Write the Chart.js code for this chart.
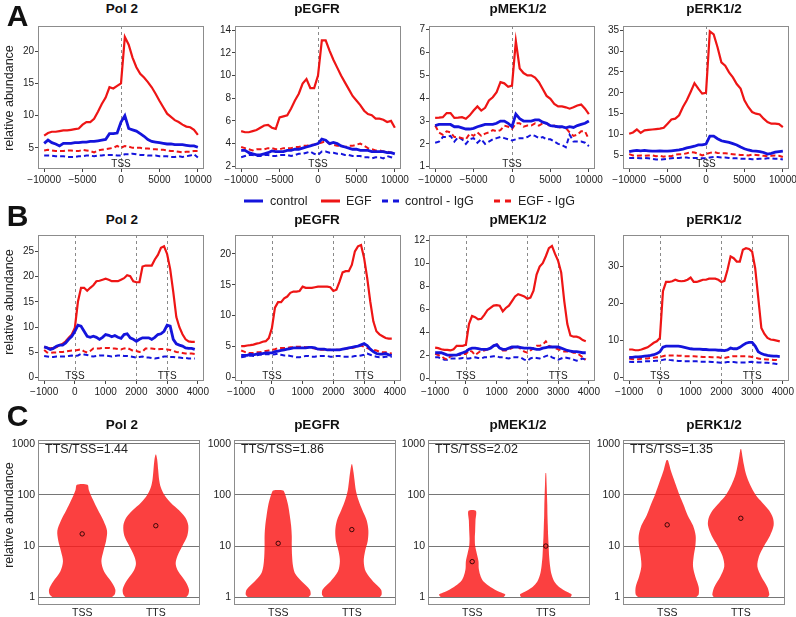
<!DOCTYPE html>
<html>
<head>
<meta charset="utf-8">
<script src="https://cdn.jsdelivr.net/npm/chart.js@4.4.1/dist/chart.umd.min.js"></script>
<style>
  body { margin: 0; background: #fff; width: 796px; height: 617px; position: relative; overflow: hidden;
         font-family: "Liberation Sans", Arial, sans-serif; color: #111; }
  canvas { position: absolute; }
  .t { position: absolute; transform: translate(-50%, -50%); white-space: nowrap; line-height: 1; }
  .letter { font-size: 30px; font-weight: bold; }
  .title { font-size: 13.5px; font-weight: bold; }
  .ylab { font-size: 12.5px; transform: translate(-50%, -50%) rotate(-90deg); color: #222; }
  .ratio { position: absolute; font-size: 12.5px; line-height: 1; transform: translateY(-50%); color: #222; }
  .leg { position: absolute; font-size: 12.5px; line-height: 1; transform: translateY(-50%); color: #222; }
  .lline { position: absolute; height: 0; border-top-width: 3px; transform: translateY(-50%); }
</style>
</head>
<body>
<script>
const PANEL_TITLES = ["Pol 2", "pEGFR", "pMEK1/2", "pERK1/2"];
const SERIES_NAMES = ["control", "EGF", "control - IgG", "EGF - IgG"];

// ---- A: profile around TSS ----
const X_A = [-10000, -9500, -9000, -8500, -8000, -7500, -7000, -6500, -6000, -5500, -5000, -4500, -4000, -3500,
  -3000, -2500, -2000, -1500, -1000, -500, 0, 500, 1000, 1500, 2000, 2500, 3000, 3500, 4000, 4500, 5000, 5500,
  6000, 6500, 7000, 7500, 8000, 8500, 9000, 9500, 10000];
const A_XTICKS = [-10000, -5000, 0, 5000, 10000];
const A_XRANGE = [-10800, 10800];

const A_POL2_CONTROL = [5.7, 6.2, 5.8, 5.6, 5.3, 5.7, 5.7, 5.7, 5.8, 5.8, 5.9, 5.9, 6.0, 6.0, 6.1, 6.2, 6.3, 7.2, 7.2, 7.3,
  9.0, 10.0, 8.0, 7.8, 7.6, 7.2, 6.8, 6.3, 6.0, 5.9, 5.8, 5.7, 5.6, 5.6, 5.5, 5.5, 5.5, 5.4, 5.3, 5.3, 5.1];
const A_POL2_EGF = [6.9, 7.3, 7.5, 7.5, 7.6, 7.7, 7.7, 7.8, 7.9, 8.0, 8.6, 9.0, 9.0, 9.5, 10.6, 11.8, 12.8, 14.4, 14.2, 14.6,
  15.0, 22.2, 21.0, 19.0, 17.5, 16.5, 15.9, 15.2, 14.4, 13.4, 12.3, 11.3, 10.3, 9.8, 9.3, 9.0, 8.6, 8.3, 8.2, 7.8, 7.0];
const A_POL2_CONTROL_IGG = [3.8, 3.8, 3.8, 3.7, 3.7, 3.7, 3.6, 3.6, 3.6, 3.7, 3.7, 3.8, 3.8, 3.7, 3.8, 3.8, 3.9, 3.9, 3.9, 3.8,
  3.8, 4.0, 4.0, 4.1, 4.0, 3.9, 3.9, 3.8, 3.8, 3.8, 3.7, 3.7, 3.7, 3.6, 3.6, 3.7, 3.6, 3.7, 3.8, 4.0, 3.5];
const A_POL2_EGF_IGG = [4.6, 4.7, 4.6, 4.5, 4.5, 4.5, 4.6, 4.6, 4.5, 4.5, 4.7, 4.6, 4.5, 4.3, 4.6, 4.7, 4.8, 4.9, 5.0, 5.3,
  5.0, 5.3, 5.2, 5.0, 5.0, 5.0, 4.9, 4.9, 4.8, 4.8, 4.7, 4.7, 4.6, 4.5, 4.5, 4.4, 4.3, 4.4, 4.4, 4.5, 4.5];

const A_EGFR_CONTROL = [3.4, 3.4, 3.2, 3.1, 3.0, 3.0, 3.1, 3.2, 3.35, 3.3, 3.3, 3.3, 3.4, 3.4, 3.5, 3.5, 3.6, 3.7, 3.8, 3.9,
  4.0, 4.4, 4.3, 4.0, 4.1, 4.0, 3.8, 3.7, 3.6, 3.5, 3.5, 3.4, 3.4, 3.4, 3.3, 3.3, 3.3, 3.3, 3.2, 3.2, 3.1];
const A_EGFR_EGF = [5.1, 5.0, 5.0, 5.1, 5.2, 5.4, 5.6, 5.65, 5.4, 5.3, 6.3, 6.4, 6.5, 7.1, 7.8, 8.4, 9.3, 9.7, 8.9, 8.9,
  10.0, 13.1, 13.1, 12.2, 11.4, 10.7, 10.0, 9.4, 8.8, 8.2, 7.8, 7.4, 6.9, 6.6, 6.5, 6.2, 6.2, 6.1, 5.9, 6.0, 5.4];
const A_EGFR_CONTROL_IGG = [2.8, 2.9, 3.0, 3.0, 2.9, 2.9, 3.0, 3.0, 2.9, 2.9, 3.0, 3.0, 3.0, 2.9, 3.0, 3.1, 3.1, 3.2, 3.3, 3.1,
  3.0, 3.3, 3.3, 3.2, 3.2, 3.1, 3.1, 3.0, 3.0, 2.9, 2.9, 2.9, 2.8, 2.8, 2.7, 2.8, 2.8, 2.7, 2.9, 2.8, 2.7];
const A_EGFR_EGF_IGG = [3.7, 3.6, 3.5, 3.4, 3.5, 3.5, 3.5, 3.6, 3.6, 3.5, 3.5, 3.6, 3.6, 3.6, 3.7, 3.7, 3.8, 3.8, 3.9, 3.9,
  4.0, 4.1, 4.2, 4.0, 3.9, 3.8, 3.8, 3.7, 3.8, 3.8, 3.9, 4.0, 3.8, 3.6, 3.5, 3.4, 3.4, 3.3, 3.3, 3.2, 3.2];

const A_MEK_CONTROL = [2.8, 2.85, 2.85, 2.85, 2.85, 2.75, 2.75, 2.7, 2.65, 2.65, 2.68, 2.75, 2.8, 2.85, 2.85, 2.85, 2.9, 3.0, 3.0, 2.9,
  2.75, 3.3, 3.1, 3.0, 3.0, 3.0, 3.05, 3.05, 2.95, 2.9, 2.8, 2.78, 2.75, 2.75, 2.7, 2.75, 2.72, 2.8, 2.85, 2.9, 3.0];
const A_MEK_EGF = [3.14, 3.15, 3.17, 3.35, 3.35, 3.14, 3.15, 3.17, 3.1, 3.25, 3.46, 3.64, 3.46, 3.58, 3.9, 4.04, 4.26, 4.7, 4.65, 4.5,
  4.55, 6.5, 5.3, 5.1, 5.0, 5.0, 4.9, 4.7, 4.4, 4.1, 3.97, 3.75, 3.64, 3.64, 3.6, 3.54, 3.6, 3.68, 3.72, 3.54, 3.3];
const A_MEK_CONTROL_IGG = [2.05, 2.1, 2.3, 2.3, 2.35, 2.1, 2.3, 2.2, 2.0, 2.2, 2.25, 2.05, 2.2, 2.0, 2.1, 2.2, 2.25, 2.3, 2.25, 2.2,
  2.15, 2.2, 2.25, 2.25, 2.3, 2.4, 2.35, 2.25, 2.3, 2.2, 2.2, 2.1, 2.0, 1.95, 1.85, 2.4, 2.1, 2.1, 2.1, 2.05, 1.9];
const A_MEK_EGF_IGG = [2.8, 2.5, 2.4, 2.55, 2.5, 2.3, 2.3, 2.25, 2.2, 2.45, 2.35, 2.5, 2.35, 2.45, 2.5, 2.6, 2.55, 2.6, 2.8, 2.75,
  2.65, 2.9, 2.9, 2.75, 2.8, 2.8, 2.9, 2.8, 2.9, 2.9, 2.75, 2.8, 2.7, 2.75, 2.7, 2.5, 2.35, 2.4, 2.55, 2.55, 2.2];

const A_ERK_CONTROL = [5.9, 6.1, 6.2, 6.1, 6.2, 6.1, 6.0, 6.0, 6.1, 6.0, 6.0, 6.1, 6.2, 6.3, 6.5, 6.8, 7.0, 7.2, 7.5, 7.5,
  7.7, 9.6, 9.6, 9.0, 8.5, 8.3, 8.1, 7.8, 7.5, 7.0, 6.6, 6.3, 6.1, 6.0, 5.9, 5.7, 5.3, 5.5, 5.8, 5.9, 6.0];
const A_ERK_EGF = [10.2, 10.5, 11.2, 10.4, 11.0, 11.1, 11.2, 11.3, 11.4, 11.6, 12.6, 13.6, 13.8, 14.6, 16.6, 18.2, 20.2, 22.3, 21.0, 19.8,
  20.0, 34.7, 34.0, 30.9, 27.3, 26.5, 24.9, 23.7, 22.1, 21.0, 18.2, 16.6, 15.4, 15.0, 14.8, 13.8, 13.0, 12.6, 12.6, 12.5, 11.8];
const A_ERK_CONTROL_IGG = [4.4, 4.4, 4.4, 4.3, 4.4, 4.3, 4.2, 4.0, 4.0, 4.1, 4.2, 4.3, 4.4, 4.4, 4.5, 4.5, 4.3, 4.4, 4.4, 4.3,
  4.3, 4.5, 4.6, 4.6, 4.5, 4.5, 4.4, 4.3, 4.3, 4.2, 4.2, 4.2, 4.1, 4.1, 4.2, 4.2, 4.3, 4.3, 4.2, 4.2, 4.0];
const A_ERK_EGF_IGG = [5.3, 5.0, 4.9, 5.0, 4.9, 5.0, 5.0, 4.8, 4.9, 4.7, 4.9, 4.8, 5.2, 5.3, 5.3, 5.5, 5.8, 5.7, 5.4, 5.0,
  5.3, 5.6, 5.8, 5.6, 5.5, 5.5, 5.4, 5.3, 5.2, 5.1, 5.1, 5.0, 5.2, 5.1, 5.0, 4.9, 4.8, 4.9, 5.0, 4.9, 4.6];

const A_YTICKS = [[5, 10, 15, 20], [2, 4, 6, 8, 10, 12, 14], [1, 2, 3, 4, 5, 6, 7], [5, 10, 15, 20, 25, 30, 35]];
const A_YRANGE = [[1.72, 23.9], [1.76, 14.37], [0.9, 7.16], [1.74, 36.0]];

// ---- B: metagene TSS..TTS ----
const X_B = [-1000, -900, -800, -700, -600, -500, -400, -300, -200, -100, 0, 100, 200, 300, 400, 500, 600, 700, 800, 900,
  1000, 1100, 1200, 1300, 1400, 1500, 1600, 1700, 1800, 1900, 2000, 2100, 2200, 2300, 2400, 2500, 2600, 2700, 2800, 2900,
  3000, 3100, 3200, 3300, 3400, 3500, 3600, 3700, 3800, 3900];
const B_XTICKS = [-1000, 0, 1000, 2000, 3000, 4000];
const B_XRANGE = [-1200, 4200];

const B_POL2_CONTROL = [6.1, 5.9, 5.6, 5.8, 6.25, 6.45, 6.45, 6.9, 7.6, 8.2, 9.2, 10.4, 10.2, 9.2, 8.2, 8.0, 8.2, 8.0, 7.6, 8.0,
  8.55, 8.4, 8.1, 8.35, 8.0, 7.8, 8.55, 8.7, 7.9, 7.6, 7.2, 7.6, 7.9, 7.9, 7.9, 7.6, 8.0, 8.55, 8.7, 9.2,
  10.4, 10.2, 7.6, 6.7, 6.45, 6.25, 5.9, 5.8, 5.8, 5.6];
const B_POL2_EGF = [6.1, 5.9, 5.8, 5.9, 6.05, 6.45, 6.7, 7.2, 7.9, 8.55, 9.9, 15.1, 17.8, 17.8, 17.2, 17.8, 18.3, 19.1, 19.2, 19.4,
  19.6, 19.4, 19.1, 19.1, 19.1, 19.4, 19.7, 20.3, 20.1, 19.1, 18.9, 18.9, 22.0, 22.2, 22.2, 22.2, 23.4, 24.3, 25.7, 26.0,
  24.5, 21.5, 17.0, 12.0, 10.0, 8.6, 7.6, 7.2, 7.1, 7.1];
const B_POL2_CONTROL_IGG = [4.3, 4.2, 4.1, 4.1, 4.2, 4.2, 4.2, 4.2, 4.3, 4.4, 4.3, 4.4, 4.7, 4.6, 4.5, 4.3, 4.2, 4.3, 4.4, 4.4,
  4.4, 4.3, 4.2, 4.3, 4.4, 4.4, 4.3, 4.3, 4.2, 4.1, 4.0, 4.1, 4.2, 4.0, 4.0, 3.9, 3.8, 3.9, 4.0, 4.2,
  4.2, 4.1, 4.1, 4.0, 4.0, 3.9, 3.9, 3.8, 3.8, 3.8];
const B_POL2_EGF_IGG = [5.5, 5.0, 4.9, 5.0, 5.0, 5.1, 5.1, 5.2, 5.3, 5.4, 5.4, 5.5, 5.6, 5.2, 5.0, 5.3, 5.8, 5.8, 5.8, 5.9,
  5.9, 5.9, 5.8, 5.8, 5.7, 5.6, 5.8, 5.9, 5.6, 5.3, 5.3, 5.1, 5.2, 5.8, 5.8, 5.8, 5.7, 5.6, 5.7, 5.7,
  5.6, 5.5, 5.3, 5.1, 5.0, 4.9, 4.8, 4.8, 4.8, 4.7];

const B_EGFR_CONTROL = [3.6, 3.6, 3.6, 3.8, 3.7, 3.8, 3.9, 3.9, 4.0, 4.0, 4.0, 4.2, 4.3, 4.4, 4.5, 4.6, 4.7, 4.8, 4.8, 4.8,
  4.8, 4.8, 4.9, 4.9, 4.8, 4.6, 4.6, 4.6, 4.5, 4.5, 4.5, 4.5, 4.5, 4.6, 4.7, 4.8, 4.9, 5.0, 5.1, 5.3,
  5.5, 5.2, 4.6, 4.2, 3.9, 3.8, 3.8, 3.9, 3.7, 3.6];
const B_EGFR_EGF = [5.1, 5.1, 5.2, 5.25, 5.35, 5.5, 5.6, 5.8, 5.9, 6.4, 8.0, 11.3, 12.2, 12.2, 12.8, 13.1, 13.7, 13.9, 13.9, 14.0,
  14.7, 14.5, 14.5, 14.5, 14.6, 14.7, 14.7, 14.7, 14.7, 14.6, 14.0, 14.2, 15.5, 17.0, 17.2, 17.2, 18.2, 20.4, 21.2, 21.4,
  19.3, 16.1, 12.3, 9.1, 7.5, 7.0, 6.7, 6.4, 6.3, 6.3];
const B_EGFR_CONTROL_IGG = [3.3, 3.4, 3.5, 3.6, 3.5, 3.6, 3.7, 3.7, 3.8, 3.8, 3.7, 3.8, 3.9, 3.7, 3.6, 3.6, 3.5, 3.4, 3.3, 3.3,
  3.4, 3.5, 3.5, 3.4, 3.4, 3.5, 3.5, 3.5, 3.5, 3.4, 3.4, 3.5, 3.5, 3.4, 3.4, 3.4, 3.4, 3.5, 3.5, 3.6,
  3.7, 3.9, 3.7, 3.5, 3.4, 3.3, 3.3, 3.4, 3.4, 3.4];
const B_EGFR_EGF_IGG = [4.4, 4.2, 4.0, 4.0, 4.0, 4.1, 4.1, 4.2, 4.3, 4.4, 4.5, 4.6, 4.8, 4.8, 4.8, 4.8, 4.9, 4.9, 5.0, 5.0,
  5.0, 4.9, 4.9, 4.8, 4.7, 4.6, 4.5, 4.5, 4.5, 4.5, 4.4, 4.5, 4.5, 4.6, 4.7, 4.7, 4.8, 4.9, 5.0, 5.2,
  5.0, 4.8, 4.6, 4.5, 4.4, 4.2, 4.1, 4.1, 4.0, 3.9];

const B_MEK_CONTROL = [2.2, 2.2, 2.2, 2.1, 2.0, 2.0, 2.0, 2.0, 2.1, 2.2, 2.3, 2.5, 2.6, 2.6, 2.55, 2.5, 2.5, 2.5, 2.6, 2.8,
  2.9, 2.6, 2.5, 2.5, 2.6, 2.7, 2.7, 2.7, 2.65, 2.6, 2.6, 2.6, 2.55, 2.5, 2.5, 2.6, 2.65, 2.7, 2.7, 2.7,
  2.7, 2.6, 2.5, 2.4, 2.35, 2.3, 2.3, 2.25, 2.2, 2.2];
const B_MEK_EGF = [2.65, 2.6, 2.5, 2.45, 2.45, 2.4, 2.5, 2.8, 2.8, 2.8, 2.9, 4.7, 5.4, 5.3, 5.1, 5.15, 5.5, 5.9, 6.1, 6.3,
  6.35, 6.3, 5.8, 6.1, 6.3, 6.7, 7.1, 7.3, 7.2, 7.1, 6.9, 7.0, 7.6, 9.0, 9.7, 10.0, 10.6, 11.3, 11.5, 10.8,
  10.2, 9.2, 6.7, 4.7, 3.7, 3.6, 3.6, 3.5, 3.3, 3.2];
const B_MEK_CONTROL_IGG = [1.8, 1.8, 1.7, 1.6, 1.6, 1.7, 1.7, 1.7, 1.7, 1.75, 1.7, 1.7, 1.75, 1.8, 1.75, 1.7, 1.8, 1.8, 1.85, 1.9,
  1.9, 1.8, 1.8, 1.75, 1.7, 1.8, 1.8, 1.8, 1.75, 1.6, 1.5, 1.7, 1.8, 1.75, 1.7, 1.8, 1.9, 2.0, 1.8, 1.7,
  1.6, 1.7, 1.8, 1.75, 1.7, 1.6, 1.5, 1.6, 1.7, 1.6];
const B_MEK_EGF_IGG = [2.1, 2.0, 1.9, 1.7, 1.6, 1.9, 2.0, 2.0, 2.0, 2.1, 2.1, 2.4, 2.3, 2.0, 2.2, 2.4, 2.4, 2.5, 2.6, 2.8,
  3.0, 2.6, 2.4, 2.4, 2.5, 2.6, 2.8, 2.7, 2.5, 2.3, 2.2, 2.4, 2.6, 2.8, 2.8, 2.9, 3.2, 2.8, 2.7, 2.6,
  2.5, 2.4, 2.3, 2.3, 2.3, 2.2, 2.2, 2.0, 1.8, 1.6];

const B_ERK_CONTROL = [5.5, 5.5, 5.6, 5.6, 5.7, 5.8, 5.9, 6.0, 6.2, 6.5, 7.0, 8.2, 8.5, 8.5, 8.5, 8.5, 8.5, 8.4, 8.2, 8.0,
  7.8, 7.7, 7.7, 7.7, 7.6, 7.6, 7.5, 7.5, 7.5, 7.4, 7.4, 7.3, 7.5, 8.0, 7.8, 7.8, 8.2, 8.8, 9.3, 9.5,
  9.5, 8.5, 7.0, 6.5, 6.2, 6.0, 5.9, 5.8, 5.8, 5.7];
const B_ERK_EGF = [7.6, 7.6, 7.4, 7.4, 7.6, 7.9, 8.2, 8.8, 9.4, 9.8, 10.7, 23.3, 25.8, 25.8, 26.0, 26.4, 26.1, 26.0, 26.1, 26.4,
  27.0, 25.8, 25.8, 26.1, 26.4, 26.4, 26.7, 26.7, 26.7, 26.4, 25.8, 26.1, 29.1, 32.7, 32.2, 31.3, 31.3, 34.5, 34.9, 34.7,
  34.0, 29.5, 21.5, 13.4, 11.8, 10.7, 10.3, 10.2, 10.0, 9.8];
const B_ERK_CONTROL_IGG = [4.3, 4.2, 4.2, 4.3, 4.3, 4.4, 4.4, 4.4, 4.5, 4.6, 4.6, 4.8, 5.0, 4.8, 4.7, 4.6, 4.5, 4.5, 4.4, 4.4,
  4.4, 4.4, 4.4, 4.3, 4.3, 4.3, 4.3, 4.2, 4.2, 4.1, 4.0, 4.1, 4.2, 4.2, 4.2, 4.1, 4.1, 4.1, 4.1, 4.2,
  4.3, 4.2, 4.1, 4.1, 4.0, 4.0, 3.9, 3.8, 3.7, 3.6];
const B_ERK_EGF_IGG = [5.2, 5.0, 5.0, 5.0, 5.1, 5.2, 5.2, 5.3, 5.4, 5.5, 5.5, 5.8, 6.0, 6.0, 6.0, 6.0, 5.9, 5.9, 5.8, 5.8,
  5.8, 5.8, 5.7, 5.7, 5.6, 5.6, 5.6, 5.5, 5.5, 5.5, 5.3, 5.3, 5.5, 5.7, 5.8, 5.8, 5.8, 5.8, 5.8, 5.7,
  5.6, 5.4, 5.2, 5.0, 5.0, 4.9, 4.9, 4.8, 4.8, 4.6];

const B_YTICKS = [[0, 5, 10, 15, 20, 25], [0, 5, 10, 15, 20], [0, 2, 4, 6, 8, 10, 12], [0, 10, 20, 30]];
const B_YRANGE = [[-0.65, 28.25], [-0.53, 23.03], [-0.26, 12.45], [-0.89, 38.46]];

// ---- C: violins (log10 level, relative half width) ----
const C_CATEGORIES = ["TSS", "TTS"];
const C_RATIO = ["1.44", "1.86", "2.02", "1.35"];
const C_TSS_MEDIAN = [17.3, 11.3, 4.95, 26];
const C_TTS_MEDIAN = [25, 21, 10, 35];
const C_YTICKS = [1, 10, 100, 1000];

const V_POL2_TSS_LOG = [0, 0.05, 0.15, 0.3, 0.5, 0.7, 0.9, 1.1, 1.3, 1.5, 1.7, 1.9, 2.1, 2.2];
const V_POL2_TSS_W = [0.9, 0.98, 1.0, 0.88, 0.66, 0.58, 0.64, 0.72, 0.75, 0.64, 0.48, 0.33, 0.2, 0.16];
const V_POL2_TTS_LOG = [0, 0.05, 0.15, 0.3, 0.5, 0.65, 0.8, 1.0, 1.2, 1.4, 1.55, 1.7, 1.85, 2.0, 2.15, 2.3, 2.5, 2.7, 2.79];
const V_POL2_TTS_W = [0.92, 0.98, 1.0, 0.9, 0.68, 0.6, 0.65, 0.8, 0.95, 0.98, 0.9, 0.7, 0.45, 0.26, 0.15, 0.1, 0.07, 0.04, 0.01];
const V_EGFR_TSS_LOG = [0, 0.05, 0.15, 0.3, 0.45, 0.6, 0.8, 1.0, 1.2, 1.4, 1.6, 1.8, 1.95, 2.05, 2.09];
const V_EGFR_TSS_W = [0.92, 0.98, 0.95, 0.72, 0.52, 0.45, 0.42, 0.41, 0.41, 0.39, 0.35, 0.3, 0.24, 0.19, 0.15];
const V_EGFR_TTS_LOG = [0, 0.05, 0.15, 0.3, 0.5, 0.7, 0.9, 1.1, 1.3, 1.5, 1.7, 1.9, 2.1, 2.3, 2.45, 2.6];
const V_EGFR_TTS_W = [0.85, 0.9, 0.88, 0.65, 0.42, 0.36, 0.4, 0.48, 0.5, 0.45, 0.32, 0.2, 0.12, 0.08, 0.05, 0.01];
const V_MEK_TSS_LOG = [0, 0.05, 0.1, 0.2, 0.3, 0.4, 0.55, 0.7, 0.85, 1.0, 1.15, 1.3, 1.5, 1.69];
const V_MEK_TSS_W = [0.95, 1.0, 0.83, 0.55, 0.35, 0.26, 0.2, 0.19, 0.14, 0.09, 0.08, 0.09, 0.1, 0.11];
const V_MEK_TTS_LOG = [0, 0.05, 0.1, 0.2, 0.3, 0.45, 0.6, 0.8, 1.0, 1.2, 1.4, 1.6, 1.8, 2.0, 2.2, 2.43];
const V_MEK_TTS_W = [0.75, 0.78, 0.65, 0.4, 0.26, 0.17, 0.13, 0.1, 0.085, 0.07, 0.06, 0.05, 0.045, 0.035, 0.025, 0.01];
const V_ERK_TSS_LOG = [0, 0.05, 0.2, 0.4, 0.6, 0.8, 1.0, 1.2, 1.4, 1.6, 1.8, 2.0, 2.2, 2.4, 2.5, 2.6, 2.68];
const V_ERK_TSS_W = [0.88, 0.95, 0.95, 0.85, 0.78, 0.8, 0.85, 0.86, 0.78, 0.62, 0.5, 0.37, 0.26, 0.15, 0.1, 0.06, 0.02];
const V_ERK_TTS_LOG = [0, 0.05, 0.2, 0.4, 0.6, 0.8, 1.0, 1.2, 1.4, 1.55, 1.7, 1.85, 2.0, 2.2, 2.4, 2.6, 2.75, 2.9];
const V_ERK_TTS_W = [0.82, 0.86, 0.8, 0.62, 0.5, 0.55, 0.7, 0.88, 0.99, 0.97, 0.85, 0.65, 0.45, 0.28, 0.16, 0.09, 0.05, 0.01];

// ---- layout ----
const BLUE = "#1414dc";
const RED = "#ee1515";
const TEXT = "#222";
const TICK = "#444";
const FRAME = "#8c8c8c";
const PAD_L = 40, PAD_R = 14, PAD_T = 6, PAD_B = 24;

const ROW_A = { t: 25, b: 169, lefts: [38, 235, 429, 623], w: 166 };
const ROW_B = { t: 233.5, b: 380, lefts: [38, 235, 429, 623], w: 166 };
const ROW_C = { t: 437, b: 604.5, lefts: [38, 234, 428, 623], w: 162 };
const TITLE_X = [122, 317, 518, 714];

Chart.defaults.font.family = '"Liberation Sans", Arial, sans-serif';
Chart.defaults.color = TEXT;

const fmt = (v) => (v < 0 ? "\u2212" + Math.abs(v) : String(v));

function addText(cls, txt, x, y) {
  const d = document.createElement("div");
  d.className = cls;
  d.textContent = txt;
  d.style.left = x + "px";
  d.style.top = y + "px";
  document.body.appendChild(d);
  return d;
}

function makeCanvas(l, t, r, b) {
  const c = document.createElement("canvas");
  const w = Math.round(r - l + PAD_L + PAD_R), h = Math.round(b - t + PAD_T + PAD_B);
  c.width = w; c.height = h;
  c.style.width = w + "px"; c.style.height = h + "px";
  c.style.left = (l - PAD_L) + "px";
  c.style.top = (t - PAD_T) + "px";
  document.body.appendChild(c);
  return c;
}

const framePlugin = {
  id: "frame",
  afterDatasetsDraw(chart) {
    const { ctx, chartArea: a } = chart;
    ctx.save();
    ctx.strokeStyle = FRAME;
    ctx.lineWidth = 1;
    ctx.strokeRect(Math.round(a.left) + 0.5, Math.round(a.top) + 0.5,
      Math.round(a.right - a.left) - 1, Math.round(a.bottom - a.top) - 1);
    ctx.restore();
  },
};

// dashed guide lines at TSS / TTS with their labels
function markPlugin(at, labels, lift) {
  return {
    id: "marks",
    beforeDatasetsDraw(chart) {
      const { ctx, chartArea: a, scales: { x } } = chart;
      ctx.save();
      ctx.strokeStyle = "#8a8a8a";
      ctx.lineWidth = 1;
      ctx.setLineDash([3, 3]);
      at.forEach((v) => {
        const px = Math.round(x.getPixelForValue(v)) + 0.5;
        ctx.beginPath();
        ctx.moveTo(px, a.top);
        ctx.lineTo(px, a.bottom);
        ctx.stroke();
      });
      ctx.setLineDash([]);
      ctx.fillStyle = TEXT;
      ctx.font = '10px "Liberation Sans", Arial, sans-serif';
      ctx.textAlign = "center";
      ctx.textBaseline = "middle";
      labels.forEach(([v, txt]) => ctx.fillText(txt, x.getPixelForValue(v), a.bottom - lift));
      ctx.restore();
    },
  };
}

const STYLES = [
  { color: BLUE, width: 2.8, dash: [], order: 0 },     // control
  { color: RED, width: 2.2, dash: [], order: 1 },      // EGF
  { color: BLUE, width: 2, dash: [5, 3], order: 3 },   // control - IgG
  { color: RED, width: 2, dash: [5, 3], order: 2 },    // EGF - IgG
];

function profileChart(row, i, xs, series, xrange, xticks, yrange, yticks, marks, markLabels, lift) {
  const l = row.lefts[i], r = l + row.w;
  const canvas = makeCanvas(l, row.t, r, row.b);
  new Chart(canvas, {
    type: "line",
    data: {
      datasets: series.map((vals, k) => ({
        label: SERIES_NAMES[k],
        data: xs.map((x, j) => ({ x, y: vals[j] })),
        borderColor: STYLES[k].color,
        borderWidth: STYLES[k].width,
        borderDash: STYLES[k].dash,
        order: STYLES[k].order,
        pointRadius: 0,
        tension: 0,
        fill: false,
      })),
    },
    options: {
      responsive: false,
      animation: false,
      events: [],
      layout: { padding: { left: 0, top: PAD_T, right: PAD_R, bottom: 0 } },
      plugins: { legend: { display: false }, tooltip: { enabled: false } },
      scales: {
        x: {
          type: "linear", min: xrange[0], max: xrange[1],
          afterBuildTicks: (s) => { s.ticks = xticks.map((v) => ({ value: v })); },
          afterFit: (s) => { s.height = PAD_B; },
          grid: { drawOnChartArea: false, drawTicks: true, tickLength: 3, color: TICK },
          border: { display: false },
          ticks: { font: { size: 10 }, color: TEXT, padding: 2, maxRotation: 0, autoSkip: false, callback: fmt },
        },
        y: {
          type: "linear", min: yrange[0], max: yrange[1],
          afterBuildTicks: (s) => { s.ticks = yticks.map((v) => ({ value: v })); },
          afterFit: (s) => { s.width = PAD_L; },
          grid: { drawOnChartArea: false, drawTicks: true, tickLength: 3, color: TICK },
          border: { display: false },
          ticks: { font: { size: 10 }, color: TEXT, padding: 1, autoSkip: false, callback: fmt },
        },
      },
    },
    plugins: [framePlugin, markPlugin(marks, markLabels, lift)],
  });
}

function violinPoints(center, logs, widths) {
  const right = logs.map((lv, k) => ({ x: center + 0.45 * widths[k], y: Math.pow(10, lv) }));
  const left = logs.map((lv, k) => ({ x: center - 0.45 * widths[k], y: Math.pow(10, lv) })).reverse();
  return right.concat(left);
}

function violinChart(i, tss, tts) {
  const l = ROW_C.lefts[i], r = l + ROW_C.w;
  const canvas = makeCanvas(l, ROW_C.t, r, ROW_C.b);
  const violin = (pts) => ({
    data: pts, order: 1, borderWidth: 0, pointRadius: 0, tension: 0.3,
    backgroundColor: "rgba(250, 28, 28, 0.84)", fill: "shape",
  });
  new Chart(canvas, {
    type: "line",
    data: {
      datasets: [
        {
          data: [{ x: 1, y: C_TSS_MEDIAN[i] }, { x: 2, y: C_TTS_MEDIAN[i] }],
          showLine: false, order: 0, pointRadius: 2.2, pointBorderWidth: 1,
          pointBorderColor: "#3a0505", pointBackgroundColor: "rgba(0,0,0,0)",
        },
        violin(violinPoints(1, tss[0], tss[1])),
        violin(violinPoints(2, tts[0], tts[1])),
      ],
    },
    options: {
      responsive: false,
      animation: false,
      events: [],
      layout: { padding: { left: 0, top: PAD_T, right: PAD_R, bottom: 0 } },
      plugins: { legend: { display: false }, tooltip: { enabled: false } },
      scales: {
        x: {
          type: "linear", min: 0.4, max: 2.6,
          afterBuildTicks: (s) => { s.ticks = [{ value: 1 }, { value: 2 }]; },
          afterFit: (s) => { s.height = PAD_B; },
          grid: { display: false, drawTicks: false },
          border: { display: false },
          ticks: { font: { size: 10.5 }, color: TEXT, padding: 2, maxRotation: 0, callback: (v) => C_CATEGORIES[v - 1] },
        },
        y: {
          type: "logarithmic", min: 0.728, max: 1178,
          afterBuildTicks: (s) => { s.ticks = C_YTICKS.map((v) => ({ value: v })); },
          afterFit: (s) => { s.width = PAD_L; },
          grid: { drawTicks: false, color: "#767676", lineWidth: 1 },
          border: { display: false },
          ticks: { font: { size: 10.5 }, color: TEXT, padding: 3, autoSkip: false, callback: (v) => String(v) },
        },
      },
    },
    plugins: [framePlugin],
  });
  addText("ratio", "TTS/TSS=" + C_RATIO[i], l + 7, ROW_C.t + 11.5);
}

// row A
const A_SERIES = [
  [A_POL2_CONTROL, A_POL2_EGF, A_POL2_CONTROL_IGG, A_POL2_EGF_IGG],
  [A_EGFR_CONTROL, A_EGFR_EGF, A_EGFR_CONTROL_IGG, A_EGFR_EGF_IGG],
  [A_MEK_CONTROL, A_MEK_EGF, A_MEK_CONTROL_IGG, A_MEK_EGF_IGG],
  [A_ERK_CONTROL, A_ERK_EGF, A_ERK_CONTROL_IGG, A_ERK_EGF_IGG],
];
A_SERIES.forEach((s, i) => profileChart(ROW_A, i, X_A, s, A_XRANGE, A_XTICKS, A_YRANGE[i], A_YTICKS[i],
  [0], [[0, "TSS"]], 4.5));

// row B
const B_SERIES = [
  [B_POL2_CONTROL, B_POL2_EGF, B_POL2_CONTROL_IGG, B_POL2_EGF_IGG],
  [B_EGFR_CONTROL, B_EGFR_EGF, B_EGFR_CONTROL_IGG, B_EGFR_EGF_IGG],
  [B_MEK_CONTROL, B_MEK_EGF, B_MEK_CONTROL_IGG, B_MEK_EGF_IGG],
  [B_ERK_CONTROL, B_ERK_EGF, B_ERK_CONTROL_IGG, B_ERK_EGF_IGG],
];
B_SERIES.forEach((s, i) => profileChart(ROW_B, i, X_B, s, B_XRANGE, B_XTICKS, B_YRANGE[i], B_YTICKS[i],
  [0, 2000, 3000], [[0, "TSS"], [3000, "TTS"]], 5));

// row C
const C_VIOLINS = [
  [[V_POL2_TSS_LOG, V_POL2_TSS_W], [V_POL2_TTS_LOG, V_POL2_TTS_W]],
  [[V_EGFR_TSS_LOG, V_EGFR_TSS_W], [V_EGFR_TTS_LOG, V_EGFR_TTS_W]],
  [[V_MEK_TSS_LOG, V_MEK_TSS_W], [V_MEK_TTS_LOG, V_MEK_TTS_W]],
  [[V_ERK_TSS_LOG, V_ERK_TSS_W], [V_ERK_TTS_LOG, V_ERK_TTS_W]],
];
C_VIOLINS.forEach((v, i) => violinChart(i, v[0], v[1]));

// titles, letters, axis titles
[8.7, 220, 425].forEach((y) => PANEL_TITLES.forEach((t, i) => addText("t title", t, TITLE_X[i], y)));
addText("t letter", "A", 17.5, 16);
addText("t letter", "B", 17.5, 216);
addText("t letter", "C", 17.5, 416);
[98, 302, 515].forEach((y) => addText("t ylab", "relative abundance", 8.5, y));

// legend
const LEGEND_X = [[244, 270], [321, 346], [382, 405], [494, 518]];
SERIES_NAMES.forEach((name, k) => {
  const line = document.createElement("div");
  line.className = "lline";
  line.style.left = LEGEND_X[k][0] + "px";
  line.style.top = "201px";
  line.style.width = STYLES[k].dash.length ? "17px" : "19px";
  line.style.borderTopStyle = STYLES[k].dash.length ? "dashed" : "solid";
  line.style.borderTopColor = STYLES[k].color;
  document.body.appendChild(line);
  addText("leg", name, LEGEND_X[k][1], 201);
});
</script>
</body>
</html>
